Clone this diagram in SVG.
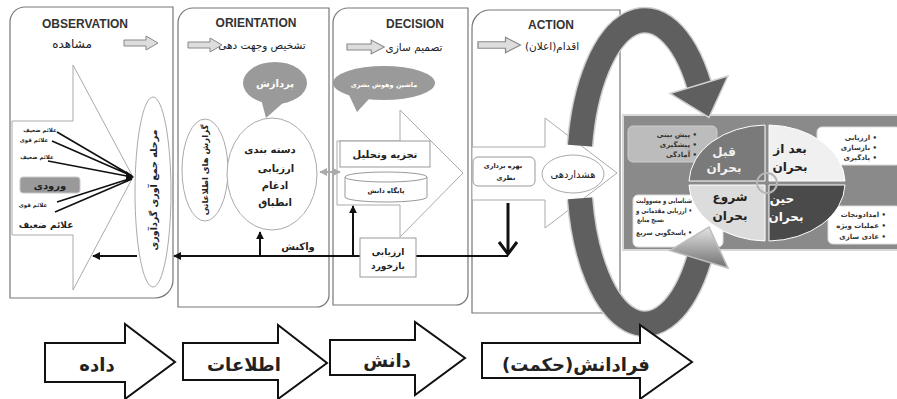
<svg xmlns="http://www.w3.org/2000/svg" width="897" height="399" viewBox="0 0 897 399">
<defs>
<style>
.en{font-family:"Liberation Sans",Arial,sans-serif;font-weight:bold;font-size:12px;fill:#333;text-anchor:middle}
.fa{font-family:"DejaVu Sans","Noto Sans",sans-serif;direction:rtl;text-anchor:middle;fill:#222}
.b{font-weight:bold}
.lst{font-family:"DejaVu Sans","Noto Sans",sans-serif;direction:rtl;text-anchor:start;font-size:7px;font-weight:bold;fill:#333}
.panel{fill:#fff;stroke:#777;stroke-width:1.2}
.big{fill:#fff;stroke:#aaa;stroke-width:1}
.garrow{fill:#ddd;stroke:#888;stroke-width:1}
.ell{fill:#fff;stroke:#aaa;stroke-width:1}
.box{fill:#fff;stroke:#999;stroke-width:1}
.ln{stroke:#111;stroke-width:2;fill:none}
.sig{stroke:#111;stroke-width:1.6;fill:none}
.barrow{fill:#fff;stroke:#111;stroke-width:2}
.ringo{fill:none;stroke:#cfcfcf;stroke-width:27}
.ring{fill:none;stroke:#5f5f5f;stroke-width:24}
.wbox{fill:#fff;stroke:#ddd;stroke-width:1}
</style>
<path id="sa" d="M0,-3 H22 V-7 L34,0 L22,7 V3 H0 Z"/>
<marker id="ah" viewBox="0 0 10 10" refX="9" refY="5" markerWidth="4" markerHeight="4" orient="auto-start-reverse"><path d="M0,0 L10,5 L0,10 z" fill="#111"/></marker>
<marker id="gh" viewBox="0 0 10 10" refX="9" refY="5" markerWidth="4" markerHeight="4" orient="auto-start-reverse"><path d="M0,0 L10,5 L0,10 z" fill="#aaa"/></marker>
<linearGradient id="upg" x1="0" y1="0" x2="0" y2="1"><stop offset="0" stop-color="#e4e4e4"/><stop offset="1" stop-color="#707070"/></linearGradient>
</defs>

<!-- OBSERVATION -->
<g id="observation">
<path class="panel" d="M10,22 A15,15 0 0 1 25,7 H173 V280 A18,18 0 0 1 155,298 H10 Z"/>
<path class="big" d="M12,121 H73 V65 L133,177 L73,290 V235 H12 Z"/>
<text class="en" x="85" y="28">OBSERVATION</text>
<text class="fa" x="72" y="48" font-size="12">مشاهده</text>
<use href="#sa" class="garrow" transform="translate(124,43)"/>
<ellipse class="ell" cx="153" cy="192" rx="18" ry="95"/>
<text class="fa b" font-size="9.5" transform="translate(157,190) rotate(-90)">مرحله جمع آوری گردآوری</text>
<text class="fa b" x="40" y="132" font-size="5.5">علائم ضعیف</text>
<text class="fa b" x="34" y="142" font-size="5.5">علائم قوی</text>
<text class="fa b" x="37" y="159" font-size="5.5">علائم ضعیف</text>
<rect x="20" y="177" width="60" height="16" rx="3" fill="#9a9a9a" stroke="#c8c8c8"/>
<text class="fa b" x="50" y="189" font-size="10">ورودی</text>
<text class="fa b" x="33" y="207" font-size="5.5">علائم قوی</text>
<text class="fa b" x="46" y="228" font-size="9">علائم ضعیف</text>
<path class="sig" d="M57,132 L132,176 M52,141 L132,176 M48,161 L132,177 M57,202 L132,178 M55,212 L132,179"/>
<path d="M126,171 L134,177 L126,182 Z" fill="#111"/>
</g>

<!-- ORIENTATION -->
<g id="orientation">
<path class="panel" d="M178,23 A15,15 0 0 1 193,8 H329 V295 A12,12 0 0 1 317,307 H178 Z"/>
<text class="en" x="256" y="27">ORIENTATION</text>
<use href="#sa" class="garrow" transform="translate(188,45)"/>
<text class="fa" x="262" y="49" font-size="10.5">تشخیص وجهت دهی</text>
</g>
<g id="processing">
<ellipse cx="275" cy="83" rx="32" ry="21" fill="#9a9a9a"/>
<path d="M261,99 L266,118 L284,102 Z" fill="#9a9a9a"/>
<text class="fa b" x="275" y="87" font-size="10" style="fill:#fff">پردازش</text>
</g>
<g id="intel-reports">
<ellipse class="ell" cx="205" cy="170" rx="23" ry="51"/>
<text class="fa b" font-size="8.5" transform="translate(208,170) rotate(-90)">گزارش های اطلاعاتی</text>
</g>
<g id="classify">
<ellipse class="ell" cx="272" cy="174" rx="45" ry="56"/>
<text class="fa b" x="270" y="153" font-size="10">دسته بندی</text>
<text class="fa b" x="276" y="172" font-size="10">ارزیابی</text>
<text class="fa b" x="275" y="189" font-size="10">ادغام</text>
<text class="fa b" x="275" y="206" font-size="10">انطباق</text>
</g>

<!-- DECISION -->
<g id="decision">
<path class="panel" d="M333,23 A15,15 0 0 1 348,8 H468 V293 A12,12 0 0 1 456,305 H333 Z"/>
<path class="big" d="M337,141 H400 V110 L463,173 L400,237 V205 H337 Z"/>
<text class="en" x="415" y="28">DECISION</text>
<use href="#sa" class="garrow" transform="translate(347,47) scale(1.1,1)"/>
<text class="fa" x="414" y="51" font-size="10.5">تصمیم سازی</text>
</g>
<g id="machine">
<ellipse cx="384" cy="83" rx="51" ry="17" fill="#9a9a9a"/>
<path d="M349,95 L357,112 L369,99 Z" fill="#9a9a9a"/>
<text class="fa b" x="384" y="87" font-size="6.5" style="fill:#fff">ماشین وهوش بشری</text>
</g>
<g id="analysis">
<rect class="box" x="340" y="141" width="90" height="26"/>
<text class="fa b" x="385" y="158" font-size="10">تجزیه وتحلیل</text>
</g>
<g id="knowledge-base">
<path class="box" d="M345,177 V197 A41,5 0 0 0 427,197 V177"/>
<ellipse class="box" cx="386" cy="177" rx="41" ry="5"/>
<text class="fa b" x="386" y="193" font-size="6.5">پایگاه دانش</text>
</g>

<!-- ACTION -->
<g id="action">
<path class="panel" d="M472,28 A18,18 0 0 1 490,10 H620 V298 A15,15 0 0 1 605,313 H472 Z"/>
<path class="big" d="M472,147 H545 V118 L617,173 L545,228 V200 H472 Z"/>
<text class="en" x="551" y="29">ACTION</text>
<use href="#sa" class="garrow" transform="translate(478,45) scale(1.25,1.1)"/>
<text class="fa" x="552" y="50" font-size="10.5">اقدام(اعلان)</text>
</g>
<g id="exploit">
<rect class="box" x="473" y="157" width="62" height="29" rx="5"/>
<text class="fa b" x="503" y="168" font-size="6.5">بهره برداری</text>
<text class="fa b" x="506" y="180" font-size="6.5">نظری</text>
</g>
<g id="warning">
<ellipse class="ell" cx="573" cy="174" rx="31" ry="19"/>
<text class="fa" x="573" y="178" font-size="10">هشداردهی</text>
</g>

<!-- connectors -->
<g id="connectors">
<line class="ln" x1="508" y1="256" x2="174" y2="256" marker-end="url(#ah)"/>
<line class="ln" x1="137" y1="256" x2="93" y2="256" marker-end="url(#ah)"/>
<line class="ln" x1="260" y1="256" x2="260" y2="232" marker-end="url(#ah)"/>
<line class="ln" x1="353" y1="256" x2="353" y2="206" marker-end="url(#ah)"/>
<line x1="508" y1="203" x2="508" y2="253" stroke="#111" stroke-width="3"/>
<path d="M499,242 L508,254 L517,242" fill="none" stroke="#111" stroke-width="3"/>
<line x1="320" y1="172" x2="340" y2="172" stroke="#aaa" stroke-width="2" marker-start="url(#gh)" marker-end="url(#gh)"/>
</g>
<g id="reaction-label"><text class="fa b" x="298" y="250" font-size="10">واکنش</text></g>
<g id="feedback">
<rect class="box" x="360" y="238" width="56" height="39"/>
<text class="fa b" x="388" y="255" font-size="9">ارزیابی</text>
<text class="fa b" x="388" y="269" font-size="9">بازخورد</text>
</g>

<!-- crisis cycle -->
<g id="crisis-panel">
<rect x="623" y="115" width="276" height="135" fill="#8a8a8a" stroke="#d8d8d8" stroke-width="2"/>
<rect x="628" y="126" width="89" height="36" rx="5" fill="#bcbcbc" stroke="#ccc"/>
<text class="lst" x="697" y="137">• پیش بینی</text>
<text class="lst" x="697" y="147">• پیشگیری</text>
<text class="lst" x="697" y="157">• آمادگی</text>
<rect class="wbox" x="817" y="127" width="84" height="38" rx="5"/>
<text class="lst" x="877" y="140">• ارزیابی</text>
<text class="lst" x="877" y="150">• بازسازی</text>
<text class="lst" x="877" y="160">• یادگیری</text>
<rect class="wbox" x="633" y="195" width="90" height="52" rx="5"/>
<text class="lst" x="692" y="203" font-size="5.5" textLength="56" lengthAdjust="spacingAndGlyphs">شناسایی و مسوولیت</text>
<text class="lst" x="692" y="213" font-size="6" textLength="56" lengthAdjust="spacingAndGlyphs">• ارزیابی مقدماتی و</text>
<text class="lst" x="664" y="222" font-size="6" textLength="27" lengthAdjust="spacingAndGlyphs">بسیج منابع</text>
<text class="lst" x="692" y="235" font-size="6" textLength="56" lengthAdjust="spacingAndGlyphs">• پاسخگویی سریع</text>
<rect class="wbox" x="828" y="206" width="73" height="38" rx="5"/>
<text class="lst" x="886" y="217">• امدادونجات</text>
<text class="lst" x="886" y="228">• عملیات ویژه</text>
<text class="lst" x="886" y="239">• عادی سازی</text>
</g>
<g id="phase-before">
<path d="M765,181 H689 A78,58 0 0 1 765,125 Z" fill="#7a7a7a" stroke="#fff"/>
<text class="fa b" x="724" y="156" font-size="12" style="fill:#f2f2f2">قبل</text>
<text class="fa b" x="724" y="172" font-size="12" style="fill:#f2f2f2">بحران</text>
</g>
<g id="phase-after">
<path d="M769,181 V125 A78,58 0 0 1 845,181 Z" fill="#f0f0f0" stroke="#fff"/>
<text class="fa b" x="790" y="153" font-size="12">بعد از</text>
<text class="fa b" x="790" y="171" font-size="12">بحران</text>
</g>
<g id="phase-start">
<path d="M765,185 V241 A78,58 0 0 1 689,185 Z" fill="#dcdcdc" stroke="#fff"/>
<text class="fa b" x="730" y="201" font-size="12">شروع</text>
<text class="fa b" x="730" y="220" font-size="12">بحران</text>
</g>
<g id="phase-during">
<path d="M769,185 H845 A78,58 0 0 1 769,241 Z" fill="#4a4a4a" stroke="#fff"/>
<text class="fa b" x="782" y="203" font-size="12" style="fill:#fff">حین</text>
<text class="fa b" x="786" y="221" font-size="12" style="fill:#fff">بحران</text>
</g>
<circle cx="767" cy="183" r="10" fill="none" stroke="#b5b5b5" stroke-width="2"/>

<g id="cycle-arrows">
<path class="ringo" d="M580,145.6 A66,152 0 0 1 699,84.8"/>
<path class="ring" d="M580,145.6 A66,152 0 0 1 699,84.8"/>
<polygon points="728,76 670,93.5 709,117.5" fill="#5f5f5f" stroke="#cfcfcf" stroke-width="1.5"/>
<path class="ringo" d="M580,198.4 A66,152 0 0 0 699,259.2"/>
<path class="ring" d="M580,198.4 A66,152 0 0 0 699,259.2"/>
<polygon points="728,268 670,250.5 709,227" fill="url(#upg)" stroke="#bdbdbd" stroke-width="1.5"/>
</g>

<!-- bottom arrows -->
<g id="data">
<path class="barrow" d="M45,343 H125 V324 L175,362 L125,399 V382 H45 Z"/>
<text class="fa b" x="97" y="371" font-size="18">داده</text>
</g>
<g id="information">
<path class="barrow" d="M183,343 H278 V325 L327,363 L278,399 V380 H183 Z"/>
<text class="fa b" x="244" y="371" font-size="18">اطلاعات</text>
</g>
<g id="knowledge">
<path class="barrow" d="M330,340 H415 V322 L465,358 L415,395 V375 H330 Z"/>
<text class="fa b" x="387" y="367" font-size="18">دانش</text>
</g>
<g id="wisdom">
<path class="barrow" d="M482,343 H640 V325 L692,362 L640,399 V378 H482 Z"/>
<text class="fa b" x="576" y="371" font-size="18">فرادانش(حکمت)</text>
</g>
</svg>
